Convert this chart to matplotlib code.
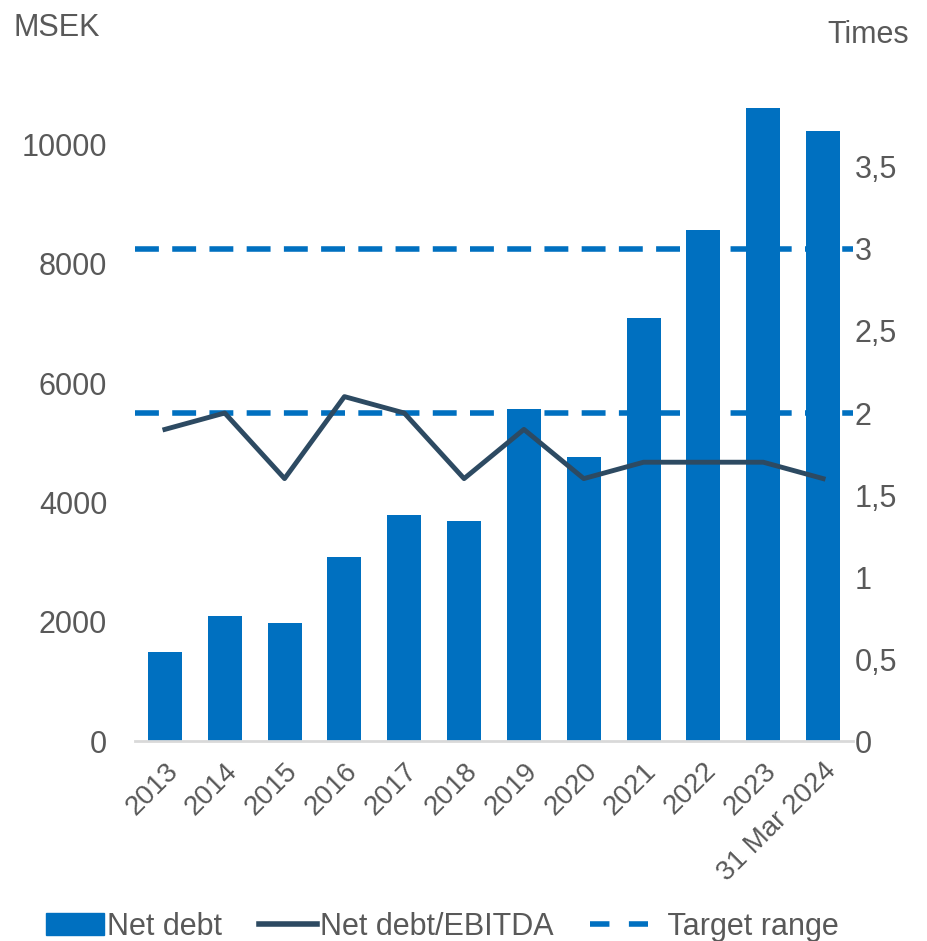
import numpy as np
import matplotlib.pyplot as plt
from matplotlib.ticker import FuncFormatter

plt.rcParams['font.family'] = ['Liberation Sans', 'DejaVu Sans']

years = ['2013', '2014', '2015', '2016', '2017', '2018', '2019', '2020',
         '2021', '2022', '2023', '31 Mar 2024']
net_debt = [1490, 2090, 1980, 3080, 3790, 3690, 5560, 4770, 7100, 8560, 10620, 10220]
ratio = [1.9, 2.0, 1.6, 2.1, 2.0, 1.6, 1.9, 1.6, 1.7, 1.7, 1.7, 1.6]
target = [2, 3]

grey = '#595959'
blue = '#0070C0'
navy = '#2D4A62'

fig = plt.figure(figsize=(9.27, 9.41), dpi=100)
ax = fig.add_axes([0.1456, 0.2125, 0.7746, 0.6972])
ax2 = ax.twinx()

x = np.arange(len(years))
ax.bar(x, net_debt, width=0.57, color=blue, zorder=2, label='Net debt')
ax.set_xlim(-0.5, len(years) - 0.5)
ax.set_ylim(0, 11000)
ax.set_yticks(range(0, 10001, 2000))

for t in target:
    ax2.axhline(t, color=blue, lw=4, dashes=(4.3, 2.4), zorder=3)
ax2.plot(x, ratio, color=navy, lw=3.5, zorder=4, label='Net debt/EBITDA')
ax2.set_ylim(0, 4)
ax2.set_yticks(np.arange(0, 3.51, 0.5))
ax2.yaxis.set_major_formatter(FuncFormatter(lambda v, p: ('%g' % v).replace('.', ',')))

for a in (ax, ax2):
    for s in a.spines.values():
        s.set_visible(False)
    a.tick_params(length=0, labelsize=22, labelcolor=grey)
ax.spines['bottom'].set_visible(True)
ax.spines['bottom'].set_color('#D9D9D9')
ax.spines['bottom'].set_linewidth(2)
ax.tick_params(axis='y', pad=20)
ax2.tick_params(axis='y', pad=1)

ax.set_xticks(x)
ax.set_xticklabels(years, rotation=45, ha='right', rotation_mode='anchor', fontsize=20)
ax.tick_params(axis='x', pad=12)

fig.text(0.015, 0.97, 'MSEK', fontsize=22, color=grey, va='center')
fig.text(0.893, 0.963, 'Times', fontsize=22, color=grey, va='center')

h1 = plt.Rectangle((0, 0), 1, 1, color=blue)
h2 = plt.Line2D([], [], color=navy, lw=4)
h3 = plt.Line2D([], [], color=blue, lw=4, dashes=(3.5, 3.5))
fig.legend([h1, h2, h3], ['Net debt', 'Net debt/EBITDA', '  Target range'],
           loc='center left', bbox_to_anchor=(0.02, 0.015), ncol=3, frameon=False,
           fontsize=22, labelcolor=grey, handlelength=1.9, handletextpad=0.1,
           columnspacing=1.2, handleheight=0.7)

fig.savefig('out.png', dpi=100)
